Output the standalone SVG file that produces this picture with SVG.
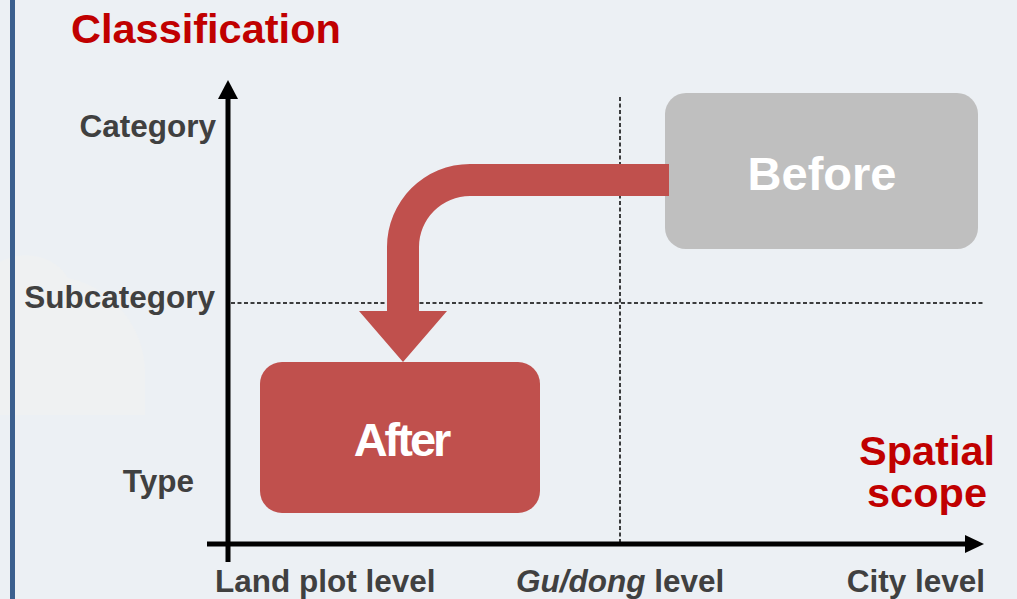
<svg xmlns="http://www.w3.org/2000/svg" width="1017" height="599" viewBox="0 0 1017 599">
<style>
.lbl{font-family:"Liberation Sans",Arial,sans-serif;font-weight:bold;font-size:31.5px;fill:#404040}
.red{font-family:"Liberation Sans",Arial,sans-serif;font-weight:bold;font-size:41.5px;fill:#C00000}
.box{font-family:"Liberation Sans",Arial,sans-serif;font-weight:bold;font-size:47px;fill:#FFFFFF}
.dash{stroke:#000;stroke-width:1.5;stroke-dasharray:4 2.5;fill:none}
.axis{stroke:#000;stroke-width:5;fill:none}
</style>
<rect x="0" y="0" width="1017" height="599" fill="#ECF0F4"/>
<path d="M0,415 V262 C20,250 55,254 68,278 C115,288 145,330 145,372 V415 Z" fill="#EFF1F2"/>
<rect x="10" y="0" width="5" height="599" fill="#3B5F8E"/>
<text class="red" x="71" y="43">Classification</text>
<text class="red" x="927" y="465" text-anchor="middle">Spatial</text>
<text class="red" x="927" y="507" text-anchor="middle">scope</text>
<text class="lbl" x="216" y="137" text-anchor="end">Category</text>
<text class="lbl" x="215" y="308" text-anchor="end">Subcategory</text>
<text class="lbl" x="194" y="492" text-anchor="end">Type</text>
<text class="lbl" x="215" y="592">Land plot level</text>
<text class="lbl" x="516" y="592"><tspan font-style="italic">Gu/dong</tspan> level</text>
<text class="lbl" x="985" y="592" text-anchor="end">City level</text>
<g id="axes">
<line class="axis" x1="228" y1="96" x2="228" y2="562"/>
<polygon points="218,99 228,80 238,99" fill="#000"/>
<line class="axis" x1="207" y1="544" x2="967" y2="544"/>
<polygon points="965,535 984,544 965,553" fill="#000"/>
</g>
<g id="grid">
<line class="dash" x1="620" y1="97" x2="620" y2="542"/>
<line class="dash" x1="231" y1="303" x2="985" y2="303"/>
</g>
<g id="before">
<rect x="665" y="93" width="313" height="156" rx="21" fill="#BFBFBF"/>
<text class="box" x="822" y="190" text-anchor="middle">Before</text>
</g>
<g id="after">
<rect x="260" y="362" width="280" height="151" rx="22" fill="#C0504D"/>
<text class="box" x="401" y="456" text-anchor="middle" letter-spacing="-3">After</text>
</g>
<g id="connectors">
<path d="M669,164 H470 A83,83 0 0 0 387,247 V311 H359 L403,362 L447,311 H419 V247 A51,51 0 0 1 470,196 H669 Z" fill="#C0504D"/>
</g>
</svg>
